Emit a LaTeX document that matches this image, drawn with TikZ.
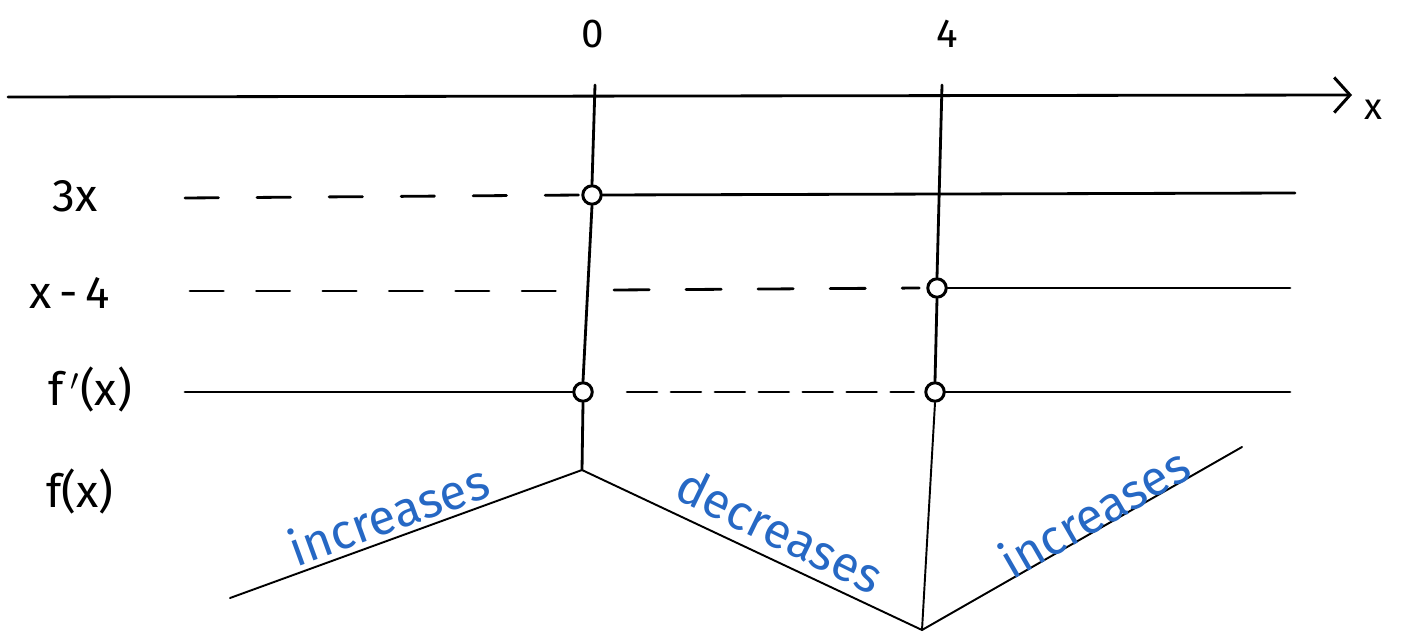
\documentclass[tikz,border=0pt]{standalone}
\usepackage{fontspec}
\setmainfont{Fira Sans}
\usetikzlibrary{arrows.meta}
\definecolor{penblue}{RGB}{38,104,196}
\tikzset{
  ink/.style={line width=1.6pt, line cap=round, black},
  thin ink/.style={line width=1.1pt, line cap=round, black},
  dashline/.style={ink, dash pattern=on 19pt off 22pt},
  hole/.style={circle, draw=black, line width=1.7pt, fill=white, inner sep=0pt, minimum size=10.5pt},
  lbl/.style={font=\fontsize{26}{30}\selectfont, inner sep=0pt},
  trend/.style={font=\fontsize{28}{32}\selectfont, text=penblue, inner sep=0pt}
}
\begin{document}
\begin{tikzpicture}[x=0.02cm, y=-0.02cm]
  \useasboundingbox (0,0) rectangle (1402,638);

  % number line
  \coordinate (axL) at (8,97);
  \coordinate (axR) at (1352,95);
  \draw[ink, -{Straight Barb[length=9pt, width=20pt, line width=1.7pt]}] (axL) -- (axR);
  \node[lbl, font=\fontsize{21}{24}\selectfont] (xlab) at (1373,110) {x};
  \node[lbl, font=\fontsize{23}{26}\selectfont] (zero) at (593,34) {0};
  \node[lbl, font=\fontsize{23}{26}\selectfont] (four) at (947,34) {4};

  % row labels
  \node[lbl] (r3x) at (75,196) {3x};
  \node[lbl] (rxm) at (70,293) {x\,-\,4};
  \node[lbl] (rfp) at (90,390) {f\,$'$(x)};
  \node[lbl] (rf)  at (80,492) {f(x)};

  % holes at the critical points
  \node[hole] (h1) at (592,195) {};
  \node[hole] (h2) at (937,288) {};
  \node[hole] (h3) at (583,392) {};
  \node[hole] (h4) at (935,392) {};

  % ends of the row lines
  \coordinate (a1) at (185,198);
  \coordinate (b1) at (1295,193);
  \coordinate (a2) at (190,291);
  \coordinate (g2a) at (557,291);
  \coordinate (g2b) at (614,290);
  \coordinate (b2) at (1290,288);
  \coordinate (a3) at (185,392);
  \coordinate (b3) at (1290,392);

  % row 3x
  \draw[dashline] (a1) -- (h1.west);
  \draw[ink] (h1.east) -- (b1);
  % row x-4 (broken where it meets the guide through 0)
  \draw[dashline, dash pattern=on 19pt off 18.8pt] (a2) -- (g2a);
  \draw[dashline, dash pattern=on 20pt off 21pt] (g2b) -- ([xshift=-4pt]h2.west);
  \draw[ink] (h2.east) -- (b2);
  % row f'(x)
  \draw[ink] (a3) -- (h3.west);
  \draw[dashline, dash pattern=on 17pt off 8pt] ([xshift=19pt]h3.east) -- ([xshift=-6pt]h4.west);
  \draw[ink] (h4.east) -- (b3);

  % graph of f
  \coordinate (p0) at (230,598);
  \coordinate (p1) at (582,470);
  \coordinate (p2) at (922,630);
  \coordinate (p3) at (1242,447);
  \draw[thin ink] (p0) -- (p1) -- (p2) -- (p3);

  % vertical guides through 0 and 4
  \coordinate (t0) at (595,85);
  \coordinate (t4) at (942,85);
  \draw[ink] (t0) -- (h1.north);
  \draw[ink] (h1.south) -- (h3.north);
  \draw[ink] (h3.south) -- (p1);
  \draw[ink] (t4) -- (h2.north);
  \draw[ink] (h2.south) -- (h4.north);
  \draw[thin ink] (h4.south) -- (p2);

  % monotonicity labels
  \node[trend, rotate=20] (inc1) at (388,514) {increases};
  \node[trend, rotate=-26] (dec) at (780,530) {decreases};
  \node[trend, rotate=30] (inc2) at (1094,512) {increases};
\end{tikzpicture}
\end{document}
